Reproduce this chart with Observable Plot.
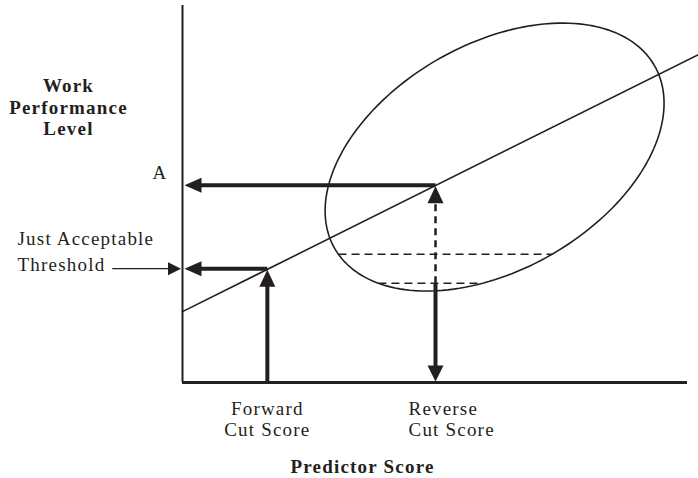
<!DOCTYPE html>
<html>
<head>
<meta charset="utf-8">
<script src="https://cdn.jsdelivr.net/npm/d3@7"></script>
<script src="https://cdn.jsdelivr.net/npm/@observablehq/plot@0.6"></script>
<style>
  html, body { margin: 0; padding: 0; background: #ffffff; }
  #chart svg { display: block; }
</style>
</head>
<body>
<div id="chart"></div>
<script>
// ---- values (data units: 0–100 on both axes) ----
const predictorDomain = [0, 100];
const performanceDomain = [0, 100];
const regressionX = [0, 102.2];
const regressionY = [18.8, 87.0];
const forwardCut = 16.8;
const reverseCut = 50.1;
const thresholdLevel = 30.2;
const levelA = 52.3;
const ellipseCenter = [61.8, 59.8];
const ellipseAxisU = [33.56, 14.27];
const ellipseAxisV = [0, 32.55];
const bandY = [34.0, 26.3];
const bandX1 = [30.9, 38.8];
const bandX2 = [73.1, 59.2];
const thresholdPointerStart = -13.9;

const yTitle = "Work\nPerformance\nLevel";
const xTitle = "Predictor Score";
const labelA = "A";
const thresholdLabel = "Just Acceptable\nThreshold";
const forwardLabel = "Forward\nCut Score";
const reverseLabel = "Reverse\nCut Score";

// ---- layout ----
const W = 698, H = 478;
const mL = 182, mR = 11, mT = 5, mB = 96;
const pxX = (W - mL - mR) / (predictorDomain[1] - predictorDomain[0]);
const pxY = (H - mT - mB) / (performanceDomain[1] - performanceDomain[0]);
const ink = "#231f20";
const font = "Liberation Serif, Times New Roman, serif";

function head(dir, L, Wd) {
  return {
    draw(ctx) {
      const h = Wd / 2;
      if (dir === "left") { ctx.moveTo(0, 0); ctx.lineTo(L, -h); ctx.lineTo(L, h); }
      else if (dir === "right") { ctx.moveTo(0, 0); ctx.lineTo(-L, -h); ctx.lineTo(-L, h); }
      else if (dir === "up") { ctx.moveTo(0, 0); ctx.lineTo(-h, L); ctx.lineTo(h, L); }
      else { ctx.moveTo(0, 0); ctx.lineTo(-h, -L); ctx.lineTo(h, -L); }
      ctx.closePath();
    }
  };
}

const ellipse = d3.range(0, 360, 2).map(deg => {
  const t = deg * Math.PI / 180;
  return {
    x: ellipseCenter[0] + ellipseAxisU[0] * Math.cos(t) + ellipseAxisV[0] * Math.sin(t),
    y: ellipseCenter[1] + ellipseAxisU[1] * Math.cos(t) + ellipseAxisV[1] * Math.sin(t)
  };
});

const regression = regressionX.map((x, i) => ({x, y: regressionY[i]}));
const bands = bandY.map((y, i) => ({y, x1: bandX1[i], x2: bandX2[i]}));

const back = 8; // px of shaft hidden under each head
const thick = [
  {x1: reverseCut, y1: levelA, x2: back / pxX, y2: levelA},
  {x1: forwardCut, y1: thresholdLevel, x2: back / pxX, y2: thresholdLevel},
  {x1: forwardCut, y1: 0, x2: forwardCut, y2: thresholdLevel - back / pxY},
  {x1: reverseCut, y1: bandY[1], x2: reverseCut, y2: back / pxY}
];

const plot = Plot.plot({
  width: W,
  height: H,
  marginLeft: mL,
  marginRight: mR,
  marginTop: mT,
  marginBottom: mB,
  x: {domain: predictorDomain, axis: null},
  y: {domain: performanceDomain, axis: null},
  style: {fontFamily: font, background: "#ffffff", color: ink, letterSpacing: "1.2px", overflow: "visible"},
  marks: [
    // axes
    Plot.ruleX([0], {stroke: ink, strokeWidth: 2}),
    Plot.ruleY([0], {stroke: ink, strokeWidth: 3}),
    // ellipse and regression line
    Plot.line(ellipse, {x: "x", y: "y", curve: "linear-closed", stroke: ink, strokeWidth: 1.6}),
    Plot.line(regression, {x: "x", y: "y", stroke: ink, strokeWidth: 1.6}),
    // dashed bands
    Plot.link(bands, {x1: "x1", x2: "x2", y1: "y", y2: "y", stroke: ink, strokeWidth: 1.5, strokeDasharray: "8,5"}),
    Plot.link([{y1: bandY[1], y2: levelA - back / pxY}], {x1: () => reverseCut, x2: () => reverseCut, y1: "y1", y2: "y2", stroke: ink, strokeWidth: 2.5, strokeDasharray: "7,5"}),
    // thick arrows
    Plot.link(thick, {x1: "x1", y1: "y1", x2: "x2", y2: "y2", stroke: ink, strokeWidth: 4}),
    // pointer from threshold label
    Plot.link([{x1: thresholdPointerStart, x2: -6 / pxX, y: thresholdLevel}], {x1: "x1", x2: "x2", y1: "y", y2: "y", stroke: ink, strokeWidth: 1.2}),
    // arrow heads
    Plot.dot([{x: 0, y: levelA}, {x: 0, y: thresholdLevel}], {x: "x", y: "y", symbol: head("left", 17, 15), fill: ink, stroke: "none", dx: 2}),
    Plot.dot([{x: 0, y: thresholdLevel}], {x: "x", y: "y", symbol: head("right", 13, 13), fill: ink, stroke: "none", dx: -1.5}),
    Plot.dot([{x: forwardCut, y: thresholdLevel}, {x: reverseCut, y: levelA}], {x: "x", y: "y", symbol: head("up", 17, 16), fill: ink, stroke: "none", dy: 1}),
    Plot.dot([{x: reverseCut, y: 0}], {x: "x", y: "y", symbol: head("down", 16, 16), fill: ink, stroke: "none", dy: -1}),
    // labels
    Plot.text([yTitle], {x: () => 0, y: () => levelA, text: d => d, dx: -114, dy: -50, textAnchor: "middle", lineAnchor: "bottom", lineHeight: 1.13, fontSize: 19, fontWeight: "bold", fill: ink}),
    Plot.text([labelA], {x: () => 0, y: () => levelA, text: d => d, dx: -15, dy: -6, textAnchor: "end", lineAnchor: "bottom", fontSize: 19, fill: ink}),
    Plot.text([thresholdLabel], {x: () => 0, y: () => thresholdLevel, text: d => d, dx: -165, dy: 2, textAnchor: "start", lineAnchor: "bottom", lineHeight: 1.37, fontSize: 19, fill: ink}),
    Plot.text([forwardLabel], {x: () => forwardCut, y: () => 0, text: d => d, dy: 53, textAnchor: "middle", lineAnchor: "bottom", lineHeight: 1.1, fontSize: 19, fill: ink}),
    Plot.text([reverseLabel], {x: () => reverseCut, y: () => 0, text: d => d, dx: -27, dy: 53, textAnchor: "start", lineAnchor: "bottom", lineHeight: 1.1, fontSize: 19, fill: ink}),
    Plot.text([xTitle], {x: () => (362 - mL) / pxX, y: () => 0, text: d => d, dy: 90, textAnchor: "middle", lineAnchor: "bottom", fontSize: 19, fontWeight: "bold", fill: ink})
  ]
});

document.getElementById("chart").appendChild(plot);
</script>
</body>
</html>
